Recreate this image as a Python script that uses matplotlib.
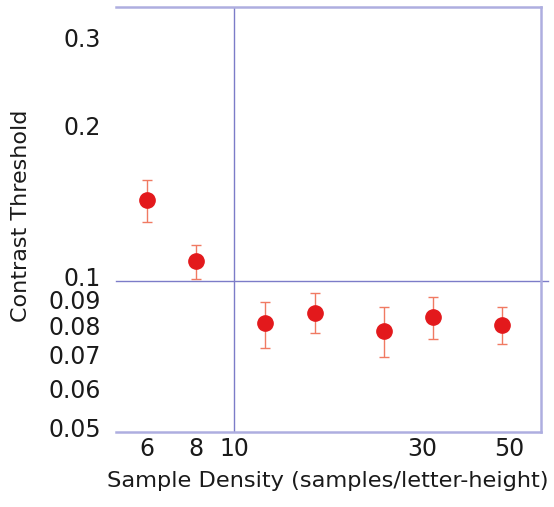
import matplotlib
matplotlib.use("Agg")
import matplotlib.pyplot as plt
import matplotlib.transforms as mtransforms
from matplotlib.ticker import FixedLocator, FixedFormatter, NullLocator

# -----------------------------
# DATA
# -----------------------------
density = [6, 8, 12, 16, 24, 32, 48]
threshold = [0.145, 0.1097, 0.0822, 0.0863, 0.0794, 0.0848, 0.0816]
err_low = [0.131, 0.1008, 0.0735, 0.0785, 0.0706, 0.0764, 0.0748]
err_high = [0.1585, 0.1178, 0.0908, 0.0947, 0.0885, 0.0926, 0.0885]

x_ticks = [6, 8, 10, 30, 50]
x_tick_labels = ["6", "8", "10", "30", "50"]
y_ticks = [0.05, 0.06, 0.07, 0.08, 0.09, 0.1, 0.2, 0.3]
y_tick_labels = ["0.05", "0.06", "0.07", "0.08", "0.09", "0.1", "0.2", "0.3"]

# -----------------------------
# STYLE
# -----------------------------
FRAME = "#aeaee0"
GUIDE = "#7c7cc8"
DOT = "#e3191c"
BAR = "#f07a62"
TEXT = "#1a1a1a"

plt.rcParams["font.family"] = ["DejaVu Sans"]

fig = plt.figure(figsize=(5.54, 5.07), dpi=100)
ax = fig.add_axes([0.2094, 0.1485, 0.768, 0.8377])

ax.set_xscale("log")
ax.set_yscale("log")
ax.set_xlim(5, 60.5)
ax.set_ylim(0.05, 0.3515)

# guide lines at x=10 and y=0.1
ax.axvline(10, color=GUIDE, linewidth=1.0, zorder=1)
ax.plot([5, 63], [0.1, 0.1], color=GUIDE, linewidth=1.0, clip_on=False, zorder=1)

yerr = [
    [t - lo for t, lo in zip(threshold, err_low)],
    [hi - t for t, hi in zip(threshold, err_high)],
]
ax.errorbar(
    density, threshold, yerr=yerr,
    fmt="o", color=DOT, markersize=11, markeredgecolor=DOT,
    ecolor=BAR, elinewidth=1.0, capsize=3.5, capthick=1.0, zorder=3
)

for side in ["top", "right", "bottom"]:
    ax.spines[side].set_color(FRAME)
    ax.spines[side].set_linewidth(1.8)
ax.spines["left"].set_visible(False)

ax.xaxis.set_major_locator(FixedLocator(x_ticks))
ax.xaxis.set_major_formatter(FixedFormatter(x_tick_labels))
ax.xaxis.set_minor_locator(NullLocator())
ax.yaxis.set_major_locator(FixedLocator(y_ticks))
ax.yaxis.set_major_formatter(FixedFormatter(y_tick_labels))
ax.yaxis.set_minor_locator(NullLocator())

ax.tick_params(axis="x", length=0, pad=4, labelsize=17, labelcolor=TEXT)
ax.tick_params(axis="y", length=0, pad=11, labelsize=17, labelcolor=TEXT)

# y labels sit a few pixels above their value in the reference
shift = mtransforms.ScaledTranslation(0, 4 / 100, fig.dpi_scale_trans)
for lbl in ax.get_yticklabels():
    lbl.set_transform(lbl.get_transform() + shift)

ax.set_xlabel("Sample Density (samples/letter-height)", fontsize=16.2, color=TEXT)
ax.set_ylabel("Contrast Threshold", fontsize=16, color=TEXT)
ax.xaxis.set_label_coords(0.498, -0.093)
ax.yaxis.set_label_coords(-0.2, 0.508)

fig.savefig("out.png", dpi=100)
